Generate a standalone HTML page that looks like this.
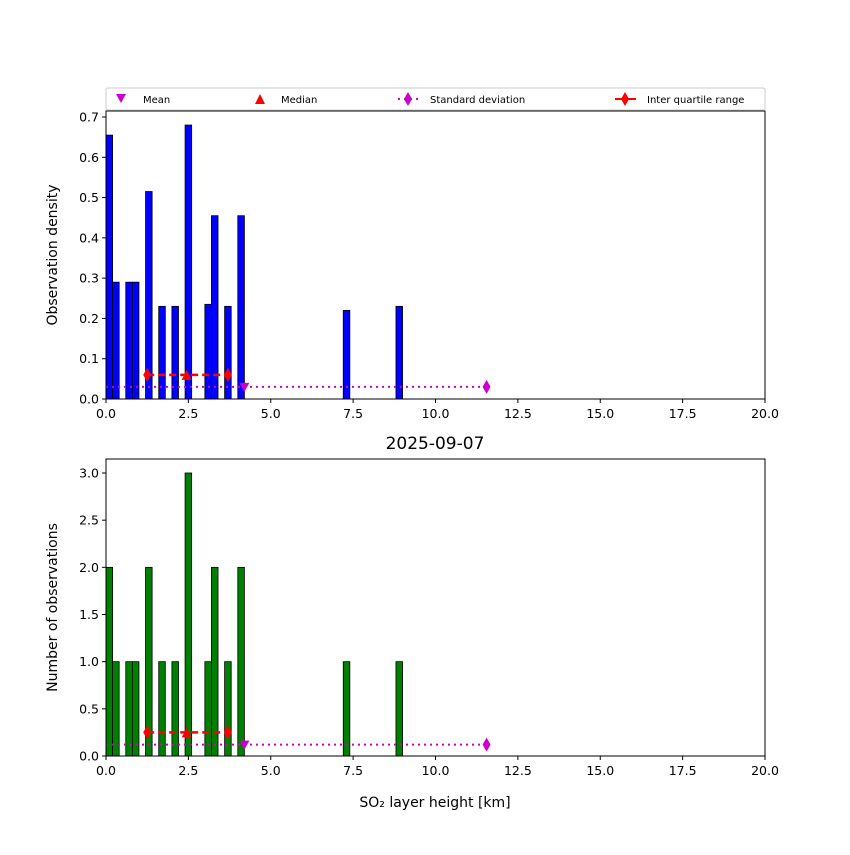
<!DOCTYPE html>
<html><head><meta charset="utf-8"><style>
body{margin:0;background:#fff;}
svg{font-family:"DejaVu Sans","Liberation Sans",sans-serif;}
</style></head><body>
<svg id="c" width="850" height="850" xmlns="http://www.w3.org/2000/svg"></svg>
<script>
const binStarts=[0,0.2,0.6,0.8,1.2,1.6,2.0,2.4,3.0,3.2,3.6,4.0,7.2,8.8];
const binWidth=0.2;
const counts=[2,1,1,1,2,1,1,3,1,2,1,2,1,1];
const densities=[0.655,0.29,0.29,0.29,0.515,0.23,0.23,0.68,0.235,0.455,0.23,0.455,0.22,0.23];
const stats={mean:4.2,median:2.45,q1:1.25,q3:3.7,std:11.55};
const topMarkY={iqr:0.06,std:0.03};
const botMarkY={iqr:0.25,std:0.12};
const xTicks=[0,2.5,5,7.5,10,12.5,15,17.5,20];
const topYTicks=[0,0.1,0.2,0.3,0.4,0.5,0.6,0.7];
const botYTicks=[0,0.5,1,1.5,2,2.5,3];

const svg=document.getElementById('c');const NS='http://www.w3.org/2000/svg';
function el(t,a,p){const e=document.createElementNS(NS,t);for(const k in a)e.setAttribute(k,a[k]);(p||svg).appendChild(e);return e;}
const X0=106,X1=765;
const xs=v=>X0+(v/20)*(X1-X0);

function panel(name,yTop,yBot,ymax,vals,color,ticks,fmt,ylabel,marks){
  const ys=v=>yBot-(v/ymax)*(yBot-yTop);
  const g=el('g',{});
  
  
  vals.forEach((v,i)=>{
    const r=el('rect',{x:xs(binStarts[i]),y:ys(v),width:xs(binWidth)-xs(0),height:yBot-ys(v),fill:color,stroke:'#000','stroke-width':0.8},g);
    
    
  });
  const sy=ys(marks.std);
  el('line',{x1:xs(0),x2:xs(stats.std),y1:sy,y2:sy,stroke:'#c0c','stroke-width':2,'stroke-dasharray':'2,4'},g);
  el('path',{d:`M${xs(stats.std)},${sy-7}L${xs(stats.std)+4},${sy}L${xs(stats.std)},${sy+7}L${xs(stats.std)-4},${sy}Z`,fill:'#c0c'},g);
  const mx=xs(stats.mean);
  el('path',{d:`M${mx-5},${sy-4}L${mx+5},${sy-4}L${mx},${sy+5}Z`,fill:'#c0c'},g);
  const iy=ys(marks.iqr);
  el('line',{x1:xs(stats.q1),x2:xs(stats.q3),y1:iy,y2:iy,stroke:'red','stroke-width':2.5,'stroke-dasharray':'7,4'},g);
  [stats.q1,stats.q3].forEach(q=>{const x=xs(q);el('path',{d:`M${x},${iy-7}L${x+4},${iy}L${x},${iy+7}L${x-4},${iy}Z`,fill:'red'},g);});
  const dx=xs(stats.median);
  el('path',{d:`M${dx-5},${iy+5}L${dx+5},${iy+5}L${dx},${iy-5}Z`,fill:'red'},g);
  el('rect',{x:X0,y:yTop,width:X1-X0,height:yBot-yTop,fill:'none',stroke:'#000','stroke-width':1},g);
  ticks.forEach(t=>{const y=ys(t);el('line',{x1:X0-4,x2:X0,y1:y,y2:y,stroke:'#000'},g);
    const tx=el('text',{x:X0-7,y:y+4.5,'text-anchor':'end','font-size':12.5},g);tx.textContent=fmt(t);});
  xTicks.forEach(t=>{const x=xs(t);el('line',{x1:x,x2:x,y1:yBot,y2:yBot+4,stroke:'#000'},g);
    const tx=el('text',{x:x,y:yBot+19,'text-anchor':'middle','font-size':12.5},g);tx.textContent=t.toFixed(1);});
  const yl=el('text',{x:0,y:0,'text-anchor':'middle','font-size':14,transform:`translate(57,${(yTop+yBot)/2}) rotate(-90)`},g);
  
  
  yl.textContent=ylabel;
}
panel('density-panel',111,399,0.7/(399-117)*(399-111),densities,'#0000ff',topYTicks,t=>t.toFixed(1),'Observation density',topMarkY);
panel('count-panel',459,756,3/(756-473)*(756-459),counts,'#008000',botYTicks,t=>t.toFixed(1),'Number of observations',botMarkY);

const title=el('text',{x:435,y:449,'text-anchor':'middle','font-size':17});


title.textContent='2025-09-07';
const xl=el('text',{x:435,y:807,'text-anchor':'middle','font-size':14});


xl.textContent='SO₂ layer height [km]';

const lg=el('g',{});


el('rect',{x:106,y:88,width:659,height:22,fill:'#fff',stroke:'#ccc',rx:2},lg);
el('path',{d:'M116,94L126,94L121,103Z',fill:'#c0c'},lg);
let t=el('text',{x:143,y:103,'font-size':10},lg);t.textContent='Mean';
el('path',{d:'M255,104L265,104L260,94Z',fill:'red'},lg);
t=el('text',{x:281,y:103,'font-size':10},lg);t.textContent='Median';
el('line',{x1:398,x2:418,y1:99,y2:99,stroke:'#c0c','stroke-width':2,'stroke-dasharray':'2,4'},lg);
el('path',{d:'M408,92L412,99L408,106L404,99Z',fill:'#c0c'},lg);
t=el('text',{x:430,y:103,'font-size':10},lg);t.textContent='Standard deviation';
el('line',{x1:615,x2:636,y1:99,y2:99,stroke:'red','stroke-width':2},lg);
el('path',{d:'M625,92L629,99L625,106L621,99Z',fill:'red'},lg);
t=el('text',{x:647,y:103,'font-size':10},lg);t.textContent='Inter quartile range';
</script>
</body></html>
